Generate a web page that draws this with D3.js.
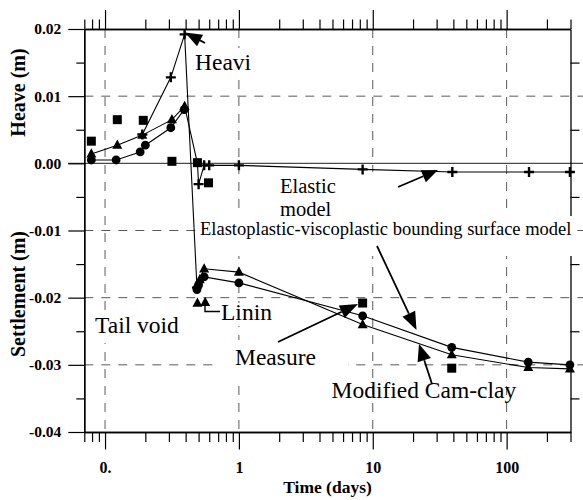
<!DOCTYPE html>
<html><head><meta charset="utf-8">
<script src="https://cdn.jsdelivr.net/npm/d3@7"></script>
<style>html,body{margin:0;padding:0;background:#fff;} svg{display:block;}</style>
</head><body><svg id="c" width="583" height="500"></svg>
<script>
// ---------------- data ----------------
const heaveTriT  = [0.079, 0.1235, 0.19, 0.316, 0.393];
const heaveTriV  = [0.0014, 0.0027, 0.0042, 0.0065, 0.0085];
const heaveCircT = [0.079, 0.121, 0.183, 0.20, 0.31, 0.39];
const heaveCircV = [0.0005, 0.0005, 0.0017, 0.0027, 0.0053, 0.0080];
const heavePlusT = [0.19, 0.31, 0.393, 0.486];
const heavePlusV = [0.0043, 0.0128, 0.0192, -0.0185];
const elasticT   = [0.393, 0.49, 0.50, 0.55, 0.60, 1.0, 8.4, 39.3, 147, 297];
const elasticV   = [0.0085, 0.0000, -0.0031, -0.0003, -0.0003, -0.0003, -0.0009, -0.0013, -0.0013, -0.0013];
const evbsT      = [0.486, 0.50, 0.55, 1.0, 8.4, 38.9, 145, 297];
const evbsV      = [-0.0188, -0.0181, -0.0169, -0.0178, -0.0227, -0.0274, -0.0296, -0.0300];
const mccT       = [0.49, 0.51, 0.55, 1.0, 8.4, 38.9, 145, 297];
const mccV       = [-0.0180, -0.0173, -0.0157, -0.0162, -0.0240, -0.0285, -0.0304, -0.0306];
const measuredT  = [0.079, 0.1235, 0.193, 0.316, 0.49, 0.593, 8.4, 38.9];
const measuredV  = [0.0033, 0.0065, 0.0064, 0.0003, 0.0001, -0.0029, -0.0208, -0.0305];
const liningT    = [0.49, 0.56];
const liningV    = [-0.0208, -0.0207];

const xMajor = [0.1, 1, 10, 100];
const xTickLabels = ["0.", "1", "10", "100"];
const xMinor = [0.07,0.08,0.09,0.2,0.3,0.4,0.5,0.6,0.7,0.8,0.9,2,3,4,5,6,7,8,9,20,30,40,50,60,70,80,90,200,300];
const yMajor = [0.02, 0.01, 0, -0.01, -0.02, -0.03, -0.04];
const yTickLabels = ["0.02", "0.01", "0.00", "-0.01", "-0.02", "-0.03", "-0.04"];
const yMinor = [0.015, 0.005, -0.005, -0.015, -0.025, -0.035];
const yGrid = [0.01, -0.01, -0.02, -0.03];

// ---------------- layout ----------------
const svg = d3.select('#c');
const L = 84.3, R = 570.5, T = 29, B = 432;
const x = d3.scaleLog().domain([0.07, 300]).range([L, R]);
const y = d3.scaleLinear().domain([-0.04, 0.02]).range([B, T]);
const SERIF = "'Liberation Serif','Times New Roman',serif";
const dash = "9,8", gridCol = "#5a5a5a";

// gridlines
const grid = svg.append('g');
grid.selectAll('line.v').data(xMajor).join('line')
  .attr('x1', d => x(d)).attr('x2', d => x(d)).attr('y1', T).attr('y2', B)
  .attr('stroke', gridCol).attr('stroke-dasharray', dash).attr('stroke-width', 1);
grid.selectAll('line.h').data(yGrid).join('line')
  .attr('x1', L).attr('x2', 583).attr('y1', d => y(d)).attr('y2', d => y(d))
  .attr('stroke', gridCol).attr('stroke-dasharray', dash).attr('stroke-width', 1);
grid.append('line').attr('x1', 68).attr('x2', 583).attr('y1', y(0)).attr('y2', y(0))
  .attr('stroke', '#4a4a4a').attr('stroke-width', 1.2);

// axes
function styleAxis(g) {
  g.selectAll('path.domain').attr('stroke', '#000').attr('stroke-width', 1.3);
  g.selectAll('.tick line').attr('stroke', '#000').attr('stroke-width', 1.2);
  g.selectAll('text').attr('font-family', SERIF).attr('font-weight', 'bold')
    .attr('font-size', '15.5px').attr('fill', '#000');
}
const noLab = () => '';
svg.append('g').attr('transform', `translate(0,${T})`)
  .call(d3.axisTop(x).tickValues(xMajor).tickSize(19).tickSizeOuter(0).tickFormat(noLab)).call(styleAxis);
svg.append('g').attr('transform', `translate(0,${T})`)
  .call(d3.axisTop(x).tickValues(xMinor).tickSize(9.5).tickSizeOuter(0).tickFormat(noLab)).call(styleAxis);
const bx = svg.append('g').attr('transform', `translate(0,${B})`)
  .call(d3.axisBottom(x).tickValues(xMajor).tickSize(17.5).tickSizeOuter(0)
    .tickFormat(d => xTickLabels[xMajor.indexOf(d)])).call(styleAxis);
bx.selectAll('text').attr('y', 41).attr('dy', 0).attr('font-size', '16px');
svg.append('g').attr('transform', `translate(0,${B})`)
  .call(d3.axisBottom(x).tickValues(xMinor).tickSize(10).tickSizeOuter(0).tickFormat(noLab)).call(styleAxis);
svg.append('g').attr('transform', `translate(${L},0)`)
  .call(d3.axisLeft(y).tickValues(yMajor).tickSize(16).tickPadding(7).tickSizeOuter(0)
    .tickFormat(d => yTickLabels[yMajor.indexOf(d)])).call(styleAxis);
svg.append('g').attr('transform', `translate(${L},0)`)
  .call(d3.axisLeft(y).tickValues(yMinor).tickSize(8).tickSizeOuter(0).tickFormat(noLab)).call(styleAxis);
svg.append('g').attr('transform', `translate(${R},0)`)
  .call(d3.axisRight(y).tickValues(yMinor).tickSize(9).tickSizeOuter(0).tickFormat(noLab)).call(styleAxis);

// axis titles
svg.append('text').attr('transform', 'translate(25,92.5) rotate(-90)').attr('text-anchor', 'middle')
  .attr('font-family', SERIF).attr('font-weight', 'bold').attr('font-size', '20px').text('Heave (m)');
svg.append('text').attr('transform', 'translate(25,294) rotate(-90)').attr('text-anchor', 'middle')
  .attr('font-family', SERIF).attr('font-weight', 'bold').attr('font-size', '20px').text('Settlement (m)');
svg.append('text').attr('x', 327.5).attr('y', 493).attr('text-anchor', 'middle')
  .attr('font-family', SERIF).attr('font-weight', 'bold').attr('font-size', '17.5px').text('Time (days)');

// white label boxes (they mask gridlines in the original)
const boxes = [[192,48,62,28],[276,172,100,46],[198,216,378,40],[92,313,90,30],[218,303,58,23],[213,340,135,38]];
svg.append('g').selectAll('rect').data(boxes).join('rect')
  .attr('x', d => d[0]).attr('y', d => d[1]).attr('width', d => d[2]).attr('height', d => d[3]).attr('fill', '#fff');

// lines
const lines = svg.append('g').attr('fill', 'none').attr('stroke', '#000').attr('stroke-width', 1.1);
function drawLine(tt, vv) {
  const ln = d3.line().x(i => x(tt[i])).y(i => y(vv[i]));
  lines.append('path').attr('d', ln(d3.range(tt.length)));
}
drawLine(heaveCircT, heaveCircV);
drawLine(heaveTriT, heaveTriV);
drawLine(heavePlusT, heavePlusV);
drawLine(elasticT, elasticV);
drawLine(evbsT, evbsV);
drawLine(mccT, mccV);

// markers
const mk = svg.append('g');
function markers(tt, vv, type, from) {
  const idx = d3.range(from || 0, tt.length);
  idx.forEach(i => {
    const cx = x(tt[i]), cy = y(vv[i]);
    if (type === 'circle') mk.append('circle').attr('cx', cx).attr('cy', cy).attr('r', 4.4).attr('fill', '#000');
    else if (type === 'square') mk.append('rect').attr('x', cx - 4.5).attr('y', cy - 4.5).attr('width', 9).attr('height', 9).attr('fill', '#000');
    else if (type === 'tri') mk.append('path').attr('d', `M${cx},${cy-5.6}L${cx+5},${cy+3.6}L${cx-5},${cy+3.6}Z`).attr('fill', '#000');
    else if (type === 'plus') mk.append('path').attr('d', `M${cx-5},${cy}H${cx+5}M${cx},${cy-5}V${cy+5}`)
      .attr('stroke', '#000').attr('stroke-width', 2.4).attr('fill', 'none');
  });
}
markers(heaveCircT, heaveCircV, 'circle');
markers(heaveTriT, heaveTriV, 'tri');
markers(heavePlusT, heavePlusV, 'plus');
markers(elasticT, elasticV, 'plus', 2);
markers(evbsT, evbsV, 'circle');
markers(mccT, mccV, 'tri');
markers(measuredT, measuredV, 'square');
markers(liningT, liningV, 'tri');

// annotation arrows [tailX, tailY, tipX, tipY, headLen, headHalfWidth]
const arrows = [
  [205, 43, 185, 32.5, 17, 6.5],
  [398, 187, 438, 170, 16, 6.5],
  [377, 246, 416.5, 330, 18, 7],
  [278, 342, 358, 304, 18, 7],
  [432, 384, 419, 344, 17, 7]
];
const ag = svg.append('g');
arrows.forEach(([x1, y1, x2, y2, hl, hw]) => {
  const dx = x2 - x1, dy = y2 - y1, len = Math.hypot(dx, dy), ux = dx / len, uy = dy / len;
  const bxp = x2 - ux * hl, byp = y2 - uy * hl;
  ag.append('line').attr('x1', x1).attr('y1', y1).attr('x2', bxp).attr('y2', byp)
    .attr('stroke', '#000').attr('stroke-width', 1.8);
  ag.append('path').attr('d', `M${x2},${y2}L${bxp - uy * hw},${byp + ux * hw}L${bxp + uy * hw},${byp - ux * hw}Z`)
    .attr('fill', '#000');
});
// lining bracket
ag.append('path').attr('d', 'M205,303V311.5H220').attr('fill', 'none').attr('stroke', '#000').attr('stroke-width', 1.4);

// annotation texts [text, x, baselineY, size]
const notes = [
  ['Heavi', 195, 70, 23.5],
  ['Elastic', 280, 193, 20.5],
  ['model', 280, 216, 20.5],
  ['Elastoplastic-viscoplastic bounding surface model', 200, 235, 18.5],
  ['Tail void', 95, 333, 23.5],
  ['Linin', 221, 320, 23.5],
  ['Measure', 235, 365, 23.5],
  ['Modified Cam-clay', 331.5, 398, 23.5]
];
svg.append('g').selectAll('text').data(notes).join('text')
  .attr('x', d => d[1]).attr('y', d => d[2]).attr('font-size', d => d[3] + 'px')
  .attr('font-family', SERIF).attr('fill', '#000').text(d => d[0]);
</script></body></html>
